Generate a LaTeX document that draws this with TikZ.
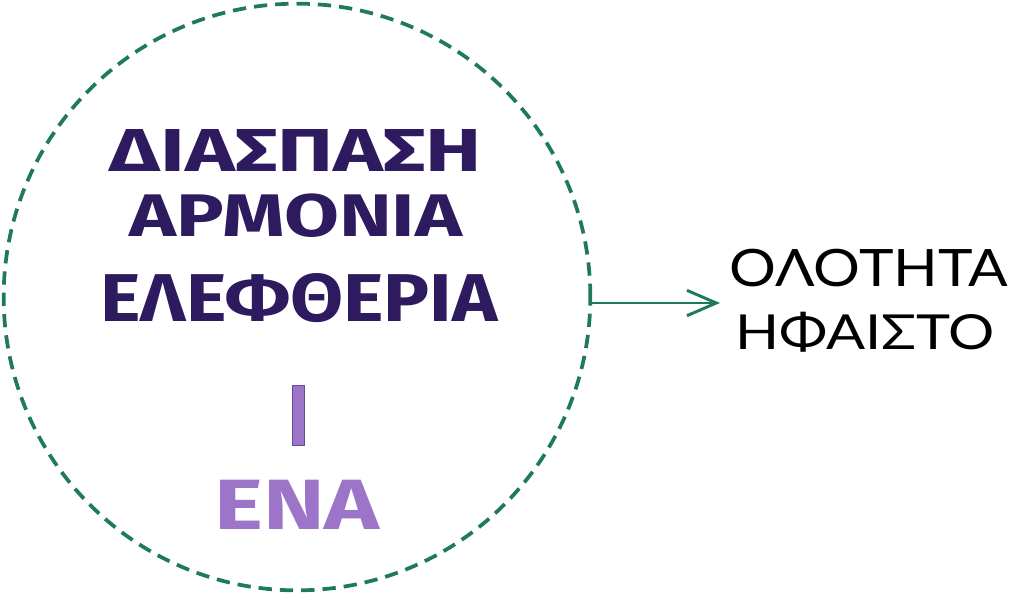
\documentclass[tikz,border=0pt]{standalone}
\usepackage{fontspec}
\setmainfont{Fira Sans}
\newfontfamily\rightfont{Lato}
\usetikzlibrary{arrows.meta}
\definecolor{ringgreen}{HTML}{1F7A5C}
\definecolor{darkpurple}{HTML}{2E1A5E}
\definecolor{lightpurple}{HTML}{9C74C8}
\definecolor{edgepurple}{HTML}{6A4A9A}
\newcommand{\fitw}[3]{\resizebox{#1}{#2}{#3}}
\tikzset{
  ring/.style={draw=ringgreen, line width=2.8pt, dash pattern=on 10pt off 6pt},
  bigword/.style={text=darkpurple, font=\bfseries, inner sep=0pt, anchor=center},
  oneword/.style={text=lightpurple, font=\bfseries, inner sep=0pt, anchor=center},
  sideword/.style={text=black, font=\rightfont, inner sep=0pt, anchor=center},
  link/.style={draw=ringgreen, line width=2.2pt, -{Straight Barb[length=22pt, width=19pt, line width=2.2pt]}}
}
\begin{document}
\begin{tikzpicture}[x=0.75pt, y=-0.75pt]
\useasboundingbox (0,0) rectangle (1016,594);
\node[ring, circle, minimum size=440pt, inner sep=0pt] (circ) at (297,297) {};
\node[bigword] (w1) at (296,150) {\fitw{279pt}{31.5pt}{ΔΙΑΣΠΑΣΗ}};
\node[bigword] (w2) at (296,216) {\fitw{249pt}{32pt}{ΑΡΜΟΝΙΑ}};
\node[bigword] (w3) at (299,298) {\fitw{298pt}{36pt}{ΕΛΕΦΘΕΡΙΑ}};
\node[draw=edgepurple, fill=lightpurple, line width=0.6pt, minimum width=9pt, minimum height=45pt, inner sep=0pt] (bar) at (298,415) {};
\node[oneword] (w4) at (297,505) {\fitw{124pt}{37pt}{ΕΝΑ}};
\coordinate (tip) at (720,303);
\node[sideword] (s1) at (869,268) {\fitw{209pt}{28pt}{ΟΛΟΤΗΤΑ}};
\node[sideword] (s2) at (865,332) {\fitw{195pt}{28pt}{ΗΦΑΙΣΤΟ}};
\draw[link] (circ.east |- tip) -- (tip);
\end{tikzpicture}
\end{document}
